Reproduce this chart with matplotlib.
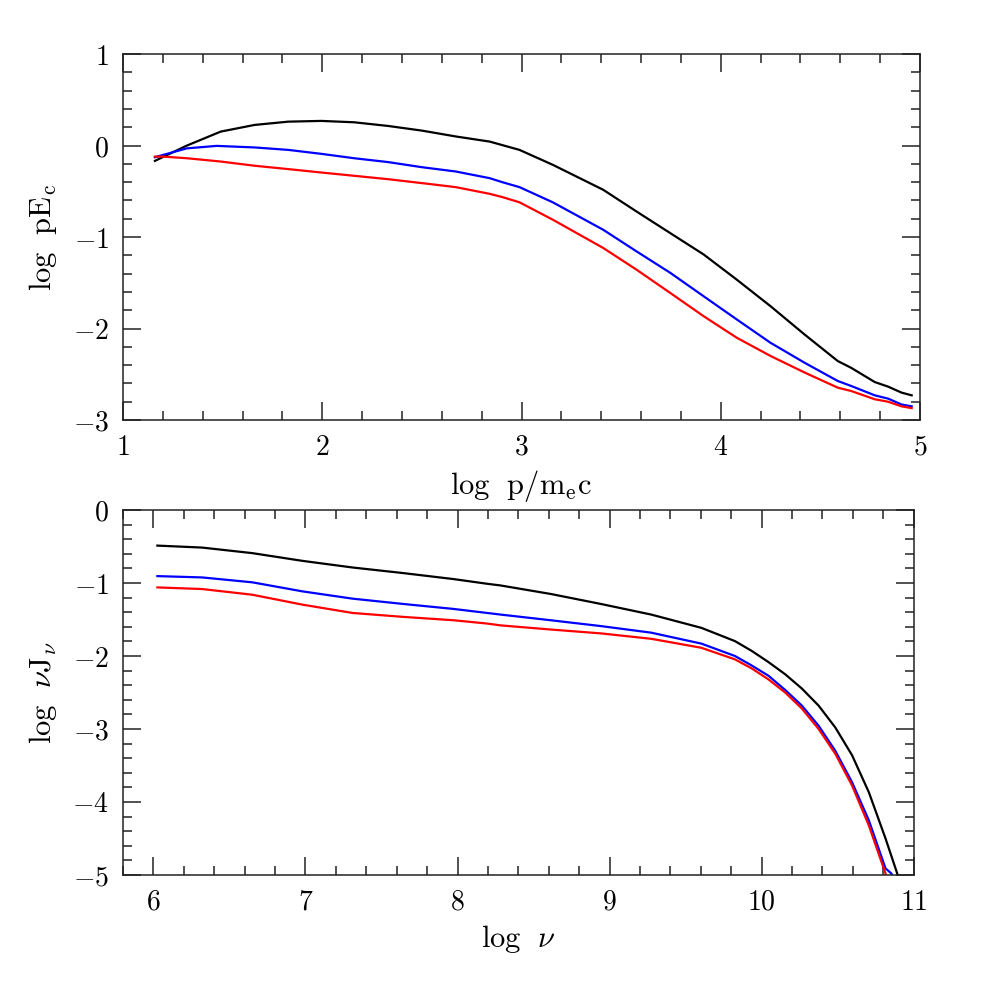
import matplotlib
matplotlib.use("Agg")
import matplotlib.pyplot as plt
from matplotlib.ticker import MultipleLocator, FixedLocator, FixedFormatter

plt.rcParams['mathtext.fontset'] = 'cm'
plt.rcParams['font.family'] = ['DejaVu Serif']

# ---- top panel data: log pE_c vs log p/m_e c ----
p_black = [1.16, 1.32, 1.49, 1.66, 1.83, 1.995, 2.16, 2.33, 2.5, 2.67, 2.84, 2.99,
           3.157, 3.41, 3.577, 3.746, 3.914, 4.08, 4.25, 4.42, 4.587, 4.655, 4.773, 4.84, 4.907, 4.958]
e_black = [-0.167, 0.0, 0.153, 0.226, 0.262, 0.27, 0.255, 0.215, 0.164, 0.10, 0.044, -0.047,
           -0.21, -0.483, -0.72, -0.956, -1.19, -1.465, -1.756, -2.064, -2.355, -2.43, -2.585, -2.635, -2.70, -2.73]

p_blue = [1.16, 1.32, 1.47, 1.66, 1.83, 1.995, 2.16, 2.33, 2.5, 2.67, 2.84, 2.904, 2.99,
          3.157, 3.41, 3.577, 3.746, 3.914, 4.08, 4.25, 4.42, 4.587, 4.655, 4.773, 4.84, 4.907, 4.958]
e_blue = [-0.127, -0.03, -0.003, -0.02, -0.047, -0.09, -0.138, -0.18, -0.236, -0.283, -0.356, -0.40, -0.454,
          -0.62, -0.92, -1.156, -1.39, -1.647, -1.90, -2.156, -2.373, -2.573, -2.628, -2.73, -2.766, -2.83, -2.85]

p_red = [1.16, 1.2, 1.32, 1.49, 1.66, 1.83, 1.995, 2.16, 2.33, 2.5, 2.67, 2.84, 2.904, 2.99,
         3.157, 3.41, 3.577, 3.746, 3.914, 4.08, 4.25, 4.42, 4.587, 4.655, 4.773, 4.84, 4.907, 4.958]
e_red = [-0.12, -0.12, -0.138, -0.174, -0.22, -0.257, -0.294, -0.33, -0.367, -0.41, -0.454, -0.527, -0.563, -0.62,
         -0.81, -1.119, -1.356, -1.61, -1.865, -2.10, -2.30, -2.48, -2.646, -2.683, -2.773, -2.80, -2.85, -2.87]

# ---- bottom panel data: log nu J_nu vs log nu ----
nu_black = [6.026, 6.32, 6.65, 6.98, 7.31, 7.645, 7.975, 8.195, 8.283, 8.614, 8.944, 9.274,
            9.604, 9.825, 9.935, 10.045, 10.155, 10.265, 10.375, 10.485, 10.595, 10.705, 10.815, 10.892, 10.90]
j_black = [-0.487, -0.514, -0.59, -0.696, -0.787, -0.864, -0.946, -1.01, -1.033, -1.15, -1.287, -1.432,
           -1.614, -1.796, -1.93, -2.083, -2.25, -2.446, -2.68, -2.98, -3.36, -3.865, -4.50, -4.98, -5.05]

nu_blue = [6.026, 6.32, 6.65, 6.98, 7.31, 7.645, 7.975, 8.195, 8.283, 8.614, 8.944, 9.274,
           9.604, 9.825, 9.935, 10.045, 10.155, 10.265, 10.375, 10.485, 10.595, 10.705, 10.815, 10.854, 10.86]
j_blue = [-0.905, -0.923, -0.99, -1.114, -1.214, -1.287, -1.355, -1.41, -1.432, -1.51, -1.59, -1.68,
          -1.83, -2.0, -2.13, -2.27, -2.465, -2.68, -2.956, -3.30, -3.73, -4.25, -4.91, -4.98, -5.05]

nu_red = [6.026, 6.32, 6.65, 6.98, 7.31, 7.645, 7.975, 8.195, 8.283, 8.614, 8.944, 9.274,
          9.604, 9.825, 9.935, 10.045, 10.155, 10.265, 10.375, 10.485, 10.595, 10.705, 10.815, 10.82]
j_red = [-1.06, -1.082, -1.16, -1.296, -1.41, -1.464, -1.51, -1.555, -1.58, -1.637, -1.69, -1.764,
         -1.887, -2.046, -2.17, -2.32, -2.50, -2.72, -3.0, -3.34, -3.775, -4.32, -4.98, -5.05]

top_xticks = [1, 2, 3, 4, 5]
top_xlabels = ['$1$', '$2$', '$3$', '$4$', '$5$']
top_yticks = [-3, -2, -1, 0, 1]
top_ylabels = ['$-3$', '$-2$', '$-1$', '$0$', '$1$']
bot_xticks = [6, 7, 8, 9, 10, 11]
bot_xlabels = ['$6$', '$7$', '$8$', '$9$', '$10$', '$11$']
bot_yticks = [-5, -4, -3, -2, -1, 0]
bot_ylabels = ['$-5$', '$-4$', '$-3$', '$-2$', '$-1$', '$0$']

fig = plt.figure(figsize=(9.97, 9.97), dpi=100)
ax1 = fig.add_axes([0.1234, 0.5787, 0.7994, 0.367])
ax2 = fig.add_axes([0.1234, 0.1224, 0.793, 0.366])

lw = 1.6
ax1.plot(p_black, e_black, color='black', lw=lw)
ax1.plot(p_blue, e_blue, color='#0000ff', lw=lw)
ax1.plot(p_red, e_red, color='#ff0000', lw=lw)
ax1.set_xlim(1, 5)
ax1.set_ylim(-3, 1)

ax2.plot(nu_black, j_black, color='black', lw=lw)
ax2.plot(nu_blue, j_blue, color='#0000ff', lw=lw)
ax2.plot(nu_red, j_red, color='#ff0000', lw=lw)
ax2.set_xlim(5.8, 11)
ax2.set_ylim(-5, 0)

for ax, xt, xl, yt, yl in [(ax1, top_xticks, top_xlabels, top_yticks, top_ylabels),
                           (ax2, bot_xticks, bot_xlabels, bot_yticks, bot_ylabels)]:
    ax.xaxis.set_major_locator(FixedLocator(xt))
    ax.xaxis.set_major_formatter(FixedFormatter(xl))
    ax.yaxis.set_major_locator(FixedLocator(yt))
    ax.yaxis.set_major_formatter(FixedFormatter(yl))
    ax.xaxis.set_minor_locator(MultipleLocator(0.2))
    ax.yaxis.set_minor_locator(MultipleLocator(0.2))
    ax.tick_params(which='both', direction='in', top=True, right=True, width=1.1, color='#222222')
    ax.tick_params(which='major', length=13, labelsize=20, pad=10)
    ax.tick_params(which='minor', length=6.5)
    for s in ax.spines.values():
        s.set_linewidth(1.1)
        s.set_color('#222222')

ax1.set_xlabel(r'$\mathrm{log\ \ p/m_e c}$', fontsize=22, labelpad=5)
ax1.set_ylabel(r'$\mathrm{log\ \ pE_c}$', fontsize=22, labelpad=10)
ax2.set_xlabel(r'$\mathrm{log}\ \ \nu$', fontsize=22, labelpad=5)
ax2.set_ylabel(r'$\mathrm{log}\ \ \nu \mathrm{J}_\nu$', fontsize=22, labelpad=10)

fig.savefig('out.png', dpi=100)
